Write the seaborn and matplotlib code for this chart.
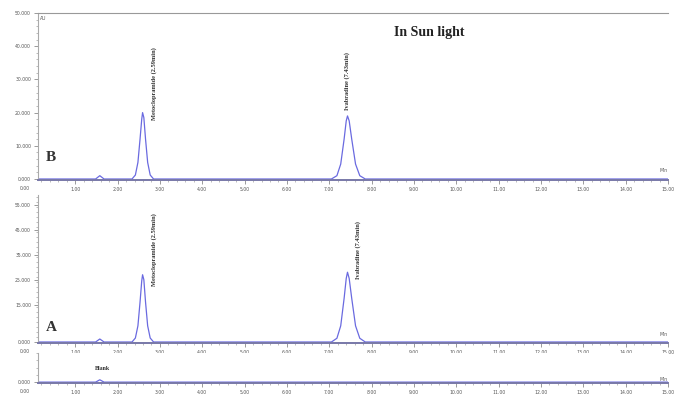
import matplotlib
matplotlib.use("Agg")
import matplotlib.pyplot as plt
import seaborn as sns
import pandas as pd
from matplotlib.ticker import MultipleLocator, FormatStrFormatter, AutoMinorLocator

# Retention time axis points (min) and detector response for each injection
rt_min = [0.10, 1.48, 1.53, 1.58, 1.63, 1.68,
          2.34, 2.42, 2.48, 2.53, 2.57, 2.59, 2.62, 2.66, 2.71, 2.77, 2.85,
          7.05, 7.18, 7.27, 7.35, 7.40, 7.43, 7.47, 7.53, 7.62, 7.72, 7.85,
          15.0]
abs_B = [0.0, 0.0, 0.5, 1.0, 0.5, 0.0,
         0.0, 1.2, 5.0, 12.0, 18.0, 20.0, 18.5, 12.0, 5.0, 1.2, 0.0,
         0.0, 1.0, 4.5, 12.0, 17.5, 19.0, 17.5, 12.0, 4.5, 1.0, 0.0,
         0.0]
abs_A = [0.0, 0.0, 0.6, 1.2, 0.6, 0.0,
         0.0, 1.6, 6.5, 16.0, 24.5, 27.0, 25.0, 16.0, 6.5, 1.6, 0.0,
         0.0, 1.5, 6.5, 17.5, 25.5, 28.0, 25.5, 17.5, 6.5, 1.5, 0.0,
         0.0]
abs_blank = [0.0, 0.0, 0.4, 0.8, 0.4, 0.0,
             0.0, 0.0, 0.0, 0.0, 0.0, 0.0, 0.0, 0.0, 0.0, 0.0, 0.0,
             0.0, 0.0, 0.0, 0.0, 0.0, 0.0, 0.0, 0.0, 0.0, 0.0, 0.0,
             0.0]

peak_names = ["Metoclopramide (2.59min)", "Ivabradine (7.43min)"]
x_ticks = [1, 2, 3, 4, 5, 6, 7, 8, 9, 10, 11, 12, 13, 14, 15]
yticks_B = [0, 10, 20, 30, 40, 50]
yticks_A = [0, 15, 25, 35, 45, 55]
yticks_blank = [0]

sns.set_theme(style="white")
plt.rcParams["font.family"] = ["DejaVu Sans"]

fig = plt.figure(figsize=(6.76, 3.95), dpi=100)
L, W = 38 / 676, 630 / 676
axB = fig.add_axes([L, 1 - 180 / 395, W, 167 / 395])
axA = fig.add_axes([L, 1 - 343 / 395, W, 148 / 395])
axN = fig.add_axes([L, 1 - 383 / 395, W, 30 / 395])

trace_color = "#6a6ae0"
tick_color = "#8a8a8a"


def style_axis(ax, yticks, ylim, top_spine=False):
    ax.set_xlim(0.12, 15.0)
    ax.set_ylim(*ylim)
    ax.set_xticks(x_ticks)
    ax.xaxis.set_major_formatter(FormatStrFormatter("%.2f"))
    ax.xaxis.set_minor_locator(AutoMinorLocator(5))
    ax.set_yticks(yticks)
    ax.yaxis.set_major_formatter(FormatStrFormatter("%.3f"))
    ax.yaxis.set_minor_locator(MultipleLocator(2))
    ax.tick_params(axis="both", which="major", labelsize=3.3, colors=tick_color,
                   length=3, width=0.6, pad=2, labelcolor="#555555")
    ax.tick_params(axis="both", which="minor", length=1.5, width=0.4,
                   colors=tick_color)
    ax.tick_params(axis="x", bottom=True, which="both")
    ax.tick_params(axis="y", left=True, which="both")
    ax.spines["right"].set_visible(False)
    ax.spines["top"].set_visible(top_spine)
    ax.spines["top"].set_color("#999999")
    ax.spines["top"].set_linewidth(0.8)
    ax.spines["left"].set_color("#aaaaaa")
    ax.spines["left"].set_linewidth(0.8)
    ax.spines["bottom"].set_color("#7878a8")
    ax.spines["bottom"].set_linewidth(1.4)
    ax.set_xlabel("")
    ax.set_ylabel("")
    ax.text(0.999, 0.04, "Min", transform=ax.transAxes, fontsize=3.3,
            color="#555555", ha="right", va="bottom")
    # start-of-run time label just below the zero level
    ax.annotate("0.00", xy=(0, 0), xycoords="axes fraction",
                xytext=(-6, -4), textcoords="offset points", fontsize=3.3,
                color="#555555", ha="right", va="top")


for ax, vals in [(axB, abs_B), (axA, abs_A), (axN, abs_blank)]:
    df = pd.DataFrame({"Time (min)": rt_min, "AU": vals})
    sns.lineplot(data=df, x="Time (min)", y="AU", ax=ax, color=trace_color,
                 linewidth=0.9, estimator=None, sort=False)

style_axis(axB, yticks_B, (-0.3, 50), top_spine=True)
style_axis(axA, yticks_A, (-0.4, 59))
style_axis(axN, yticks_blank, (-0.3, 10))
axN.yaxis.set_minor_locator(MultipleLocator(2.5))

axB.text(0.003, 0.985, "AU", transform=axB.transAxes, fontsize=3.3,
         color="#555555", ha="left", va="top")

# Panel letters and headline
serif = ["Liberation Serif", "DejaVu Serif"]
axB.text(0.3, 6.5, "B", fontsize=11, fontweight="bold", family=serif,
         color="#333333", ha="left", va="center")
axA.text(0.3, 6.0, "A", fontsize=11, fontweight="bold", family=serif,
         color="#333333", ha="left", va="center")
fig.text(0.635, 0.918, "In Sun light", fontsize=10, fontweight="bold",
         family=serif, color="#222222", ha="center", va="center")
axN.text(1.65, 3.8, "Blank", fontsize=4.3, fontweight="bold", family=serif,
         color="#333333", ha="center", va="bottom")

# Peak annotations
lab_kw = dict(rotation=90, fontsize=4.6, fontweight="bold", family=serif,
              color="#333333", ha="left", va="bottom")
axB.text(2.80, 17.8, peak_names[0], **lab_kw)
axB.text(7.36, 20.8, peak_names[1], **lab_kw)
axA.text(2.80, 22.4, peak_names[0], **lab_kw)
axA.text(7.62, 25.2, peak_names[1], **lab_kw)

fig.savefig("out.png", dpi=100, facecolor="white")
